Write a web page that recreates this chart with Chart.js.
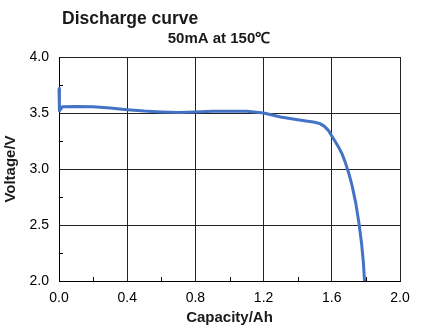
<!DOCTYPE html>
<html>
<head>
<meta charset="utf-8">
<script src="https://cdn.jsdelivr.net/npm/chart.js@4"></script>
<style>
  html, body { margin: 0; padding: 0; background: #fff; }
  canvas { display: block; }
</style>
</head>
<body>
<canvas id="myChart" width="427" height="328"></canvas>
<script>
// discharge curve, capacity (Ah) vs voltage (V)
const capacity = [0, 0, 0.005, 0.02, 0.1, 0.2, 0.3, 0.4, 0.5, 0.6, 0.7, 0.8, 0.9, 1.0, 1.1, 1.2, 1.3, 1.4, 1.45, 1.5, 1.53, 1.555, 1.58, 1.6, 1.62, 1.64, 1.66, 1.68, 1.7, 1.72, 1.74, 1.76, 1.775, 1.785, 1.792];
const voltage = [3.72, 3.62, 3.52, 3.555, 3.558, 3.556, 3.545, 3.53, 3.518, 3.51, 3.505, 3.51, 3.515, 3.515, 3.515, 3.5, 3.465, 3.44, 3.428, 3.418, 3.405, 3.383, 3.345, 3.295, 3.245, 3.195, 3.135, 3.055, 2.96, 2.845, 2.70, 2.51, 2.33, 2.17, 2.0];
const xMinor = [0.2, 0.6, 1.0, 1.4, 1.8];
const yMinor = [2.25, 2.75, 3.25, 3.75];

const titleText = 'Discharge curve';
const subTitleText = '50mA at 150℃';

const points = capacity.map((c, i) => ({ x: c, y: voltage[i] }));

// titles at the top of the canvas
const headerPlugin = {
    id: 'header',
    afterDraw(chart) {
        const ctx = chart.ctx;
        ctx.save();
        ctx.fillStyle = '#1a1a1a';
        ctx.textBaseline = 'alphabetic';
        ctx.font = 'bold 17.5px "Liberation Sans", Arial, sans-serif';
        ctx.textAlign = 'left';
        ctx.fillText(titleText, 62, 24);
        ctx.font = 'bold 15px "Liberation Sans", Arial, sans-serif';
        ctx.textAlign = 'center';
        ctx.fillText(subTitleText, 219, 43);
        ctx.restore();
    }
};

// small inward ticks between the grid lines
const minorTicks = {
    id: 'minorTicks',
    afterDraw(chart) {
        const ctx = chart.ctx;
        const xs = chart.scales.x, ys = chart.scales.y;
        const area = chart.chartArea;
        ctx.save();
        ctx.strokeStyle = '#000';
        ctx.lineWidth = 1;
        ctx.beginPath();
        xMinor.forEach(v => {
            const px = Math.round(xs.getPixelForValue(v)) + 0.5;
            ctx.moveTo(px, area.bottom);
            ctx.lineTo(px, area.bottom - 4);
        });
        yMinor.forEach(v => {
            const py = Math.round(ys.getPixelForValue(v)) + 0.5;
            ctx.moveTo(area.left, py);
            ctx.lineTo(area.left + 4, py);
        });
        ctx.stroke();
        ctx.restore();
    }
};

const data = {
    datasets: [{
        data: points,
        showLine: true,
        borderColor: '#4472C4',
        borderWidth: 3,
        borderJoinStyle: 'round',
        pointRadius: 0,
        tension: 0,
        clip: 2
    }]
};

const config = {
    type: 'scatter',
    data: data,
    options: {
        responsive: false,
        animation: false,
        layout: { padding: { top: 57, right: 27, left: 0, bottom: 0 } },
        plugins: {
            legend: { display: false },
            tooltip: { enabled: false }
        },
        scales: {
            x: {
                type: 'linear',
                min: 0,
                max: 2,
                afterFit: s => { s.height = 47; },
                border: { color: '#000', width: 1 },
                grid: { color: '#222', lineWidth: 1, drawTicks: false },
                ticks: {
                    stepSize: 0.4,
                    padding: 9,
                    color: '#000',
                    font: { family: '"Liberation Sans", Arial', size: 14 },
                    callback: v => v.toFixed(1)
                },
                title: {
                    display: true,
                    text: 'Capacity/Ah',
                    color: '#1a1a1a',
                    font: { family: '"Liberation Sans", Arial', size: 15, weight: 'bold' },
                    padding: { top: 0, bottom: 1 }
                }
            },
            y: {
                min: 2,
                max: 4,
                afterFit: s => { s.width = 59; },
                border: { color: '#000', width: 1 },
                grid: { color: '#222', lineWidth: 1, drawTicks: false },
                ticks: {
                    stepSize: 0.5,
                    padding: 10,
                    color: '#000',
                    font: { family: '"Liberation Sans", Arial', size: 14 },
                    callback: v => v.toFixed(1)
                },
                title: {
                    display: true,
                    text: 'Voltage/V',
                    color: '#1a1a1a',
                    font: { family: '"Liberation Sans", Arial', size: 15, weight: 'bold' },
                    padding: { top: 2, bottom: 0 }
                }
            }
        }
    },
    plugins: [headerPlugin, minorTicks]
};

const myChart = new Chart(document.getElementById('myChart'), config);
</script>
</body>
</html>
